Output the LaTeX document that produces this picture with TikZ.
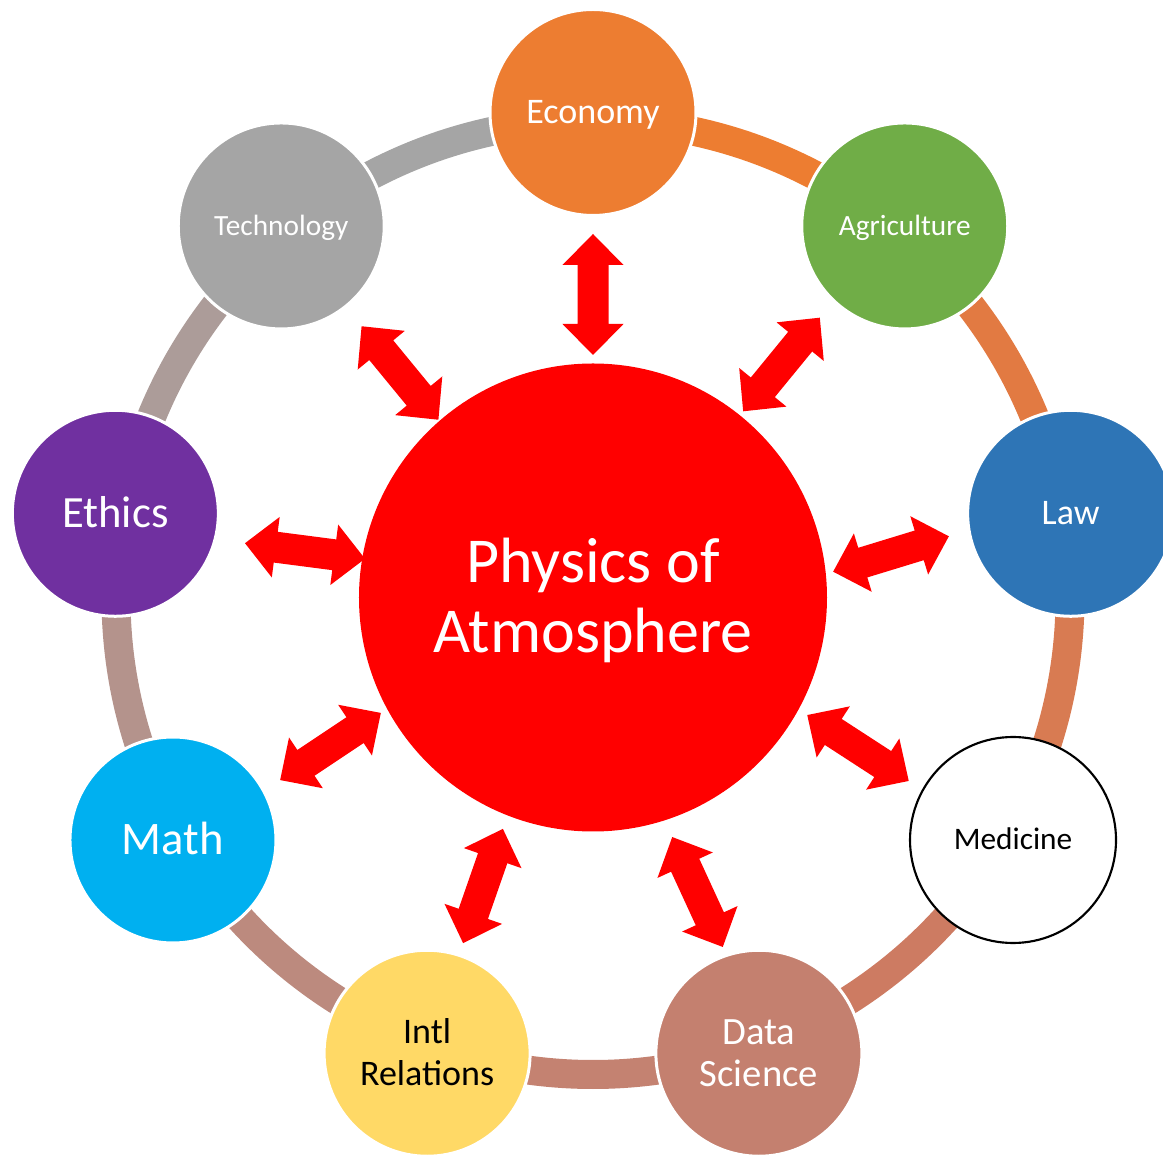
\documentclass[tikz,border=0pt]{standalone}
\usepackage{fontspec}
\setmainfont{Carlito}
\definecolor{ceco}{HTML}{ED7D31}
\definecolor{cagr}{HTML}{70AD47}
\definecolor{claw}{HTML}{2E75B6}
\definecolor{cds}{HTML}{C4806F}
\definecolor{cintl}{HTML}{FFD966}
\definecolor{cmath}{HTML}{00B0F0}
\definecolor{ceth}{HTML}{7030A0}
\definecolor{ctech}{HTML}{A5A5A5}
\definecolor{sega}{HTML}{ED7D31}
\definecolor{segb}{HTML}{E27A42}
\definecolor{segc}{HTML}{D87B52}
\definecolor{segd}{HTML}{CD7B62}
\definecolor{sege}{HTML}{C48271}
\definecolor{segf}{HTML}{BC8A7E}
\definecolor{segg}{HTML}{B4938C}
\definecolor{segh}{HTML}{AC9C99}
\definecolor{segi}{HTML}{A5A5A5}
\definecolor{cred}{HTML}{FF0000}
\newcommand\blockarr[3]{\fill[arrowfill, shift={(#1,#2)}, rotate=#3]
  (-60.5,0) -- (-29.5,30.5) -- (-29.5,15.5) -- (29.5,15.5) -- (29.5,30.5) -- (60.5,0)
  -- (29.5,-30.5) -- (29.5,-15.5) -- (-29.5,-15.5) -- (-29.5,-30.5) -- cycle;}
\tikzset{
  ringseg/.style={line width=21.75pt, line cap=butt},
  sat/.style={circle, minimum size=154.5pt, inner sep=0pt, draw=white, line width=2.25pt, text=white, align=center, text depth=0pt},
  arrowfill/.style={fill=cred},
}
\begin{document}
\begin{tikzpicture}[x=0.75pt,y=0.75pt]
\useasboundingbox (-593,-557.5) rectangle (570,597.5);
\clip (-593,-557.5) rectangle (570,597.5);
% ring
\foreach \a/\c in {90/sega,50/segb,10/segc,-30/segd,-70/sege,-110/segf,-150/segg,-190/segh,-230/segi}{
  \draw[ringseg, draw=\c] (\a:477) arc[start angle=\a, end angle=\a-40, radius=477];
}
% centre
\node[circle, fill=cred, minimum size=351pt, inner sep=0pt, text=white, align=center,
  font=\fontsize{48}{52.5}\selectfont, text height=82.8pt, text depth=0pt] (phys) at (0,0) {Physics of\\Atmosphere};
% satellites
\node[sat, fill=ceco, font=\fontsize{27}{29.7}\selectfont, text height=17pt] (eco) at (90:485) {Economy};
\node[sat, fill=cagr, font=\fontsize{22}{24.2}\selectfont, text height=13.9pt] (agr) at (50:485) {Agriculture};
\node[sat, fill=claw, font=\fontsize{27}{29.7}\selectfont, text height=17pt] (law) at (10:485) {Law};
\node[sat, fill=white, draw=black, line width=1.6pt, text=black, font=\fontsize{23.5}{25.9}\selectfont, text height=14.8pt] (med) at (-30:485) {Medicine};
\node[sat, fill=cds, font=\fontsize{29}{31.7}\selectfont, text height=50pt] (ds) at (-70:485) {Data\\Science};
\node[sat, fill=cintl, text=black, font=\fontsize{27}{31.5}\selectfont, text height=48.5pt] (intl) at (-110:485) {Intl\\Relations};
\node[sat, fill=cmath, font=\fontsize{35}{38.5}\selectfont, text height=22pt] (math) at (-150:485) {Math};
\node[sat, fill=ceth, font=\fontsize{33.5}{36.8}\selectfont, text height=21.1pt] (eth) at (170:485) {Ethics};
\node[sat, fill=ctech, font=\fontsize{22}{24.2}\selectfont, text height=13.9pt] (tech) at (130:485) {Technology};
% block arrows
\blockarr{0}{303}{90}
\blockarr{188.5}{233}{50.7}
\blockarr{298}{43.5}{17}
\blockarr{265}{-150.5}{-33}
\blockarr{104.5}{-294.5}{-65.3}
\blockarr{-110}{-288.5}{70.8}
\blockarr{-262.5}{-149}{33.7}
\blockarr{-288}{46.5}{-7.4}
\blockarr{-193}{224.5}{129.4}
\end{tikzpicture}
\end{document}
